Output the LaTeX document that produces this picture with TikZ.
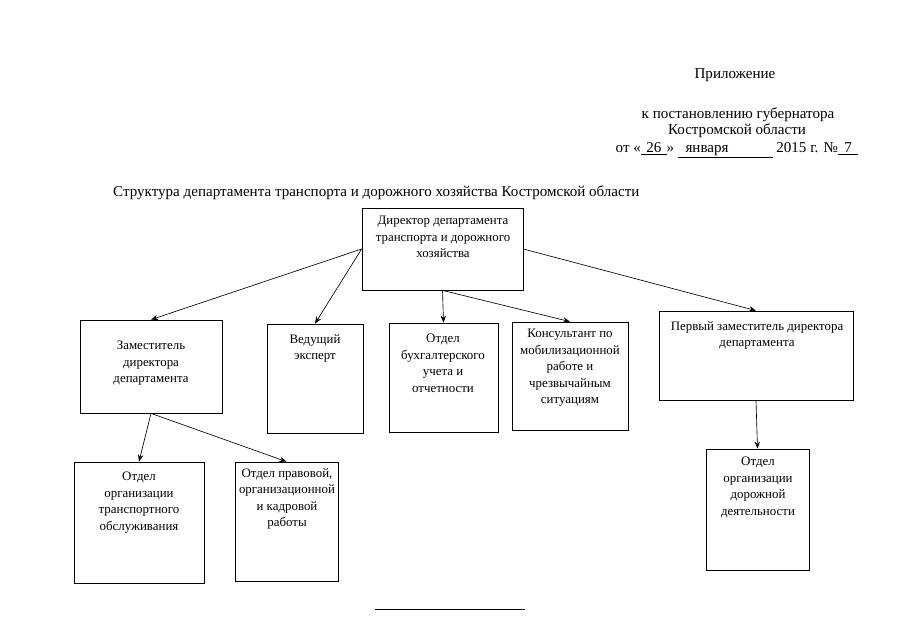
\documentclass[tikz,border=0pt]{standalone}
\usepackage{fontspec}
\setmainfont{Liberation Serif}
\usetikzlibrary{fit}
\usetikzlibrary{arrows.meta}

\newcommand{\blank}[3][c]{\underline{\makebox[#2][#1]{#3}}}

\begin{document}
\begin{tikzpicture}[x=0.93pt,y=-0.93pt,
		box/.style={draw,line width=0.7pt,inner sep=0pt},
		txt/.style={anchor=north,align=center,inner sep=0pt,font=\fontsize{12}{15.4}\selectfont},
		head/.style={inner sep=0pt,font=\fontsize{14}{16}\selectfont},
		arr/.style={-{Stealth[length=6.5pt,width=5pt]},line width=0.6pt}]
		\useasboundingbox (0,0) rectangle (905,640);
		\node[head] (pril) at (735,75) {Приложение};
		\node[head] (post) at (738,115) {к постановлению губернатора};
		\node[head] (obl) at (737,131) {Костромской области};
		\node[head] (date) at (737,150) {от «\blank{24pt}{26}» \blank[l]{88pt}{\ \ января} 2015 г. №\blank{19pt}{7}};
		\node[head,anchor=west] (title) at (113,193) {Структура департамента транспорта и дорожного хозяйства Костромской области};
		\node[box,fit={(362,208) (523,290)}] (dir) {};
		\node[box,fit={(80,320) (222,413)}] (zam) {};
		\node[box,fit={(267,324) (363,433)}] (ved) {};
		\node[box,fit={(389,323) (498,432)}] (buh) {};
		\node[box,fit={(512,322) (628,430)}] (kons) {};
		\node[box,fit={(659,311) (853,400)}] (perv) {};
		\node[box,fit={(74,462) (204,583)}] (ottr) {};
		\node[box,fit={(235,462) (338,581)}] (prav) {};
		\node[box,fit={(706,449) (809,570)}] (otdor) {};
		\node[txt] (dirt) at (443,216) {Директор департамента\\транспорта и дорожного\\хозяйства};
		\node[txt] (zamt) at (151,341) {Заместитель\\директора\\департамента};
		\node[txt] (vedt) at (315,334) {Ведущий\\эксперт};
		\node[txt] (buht) at (443,334) {Отдел\\бухгалтерского\\учета и\\отчетности};
		\node[txt] (konst) at (570,329) {Консультант по\\мобилизационной\\работе и\\чрезвычайным\\ситуациям};
		\node[txt] (pervt) at (757,321) {Первый заместитель директора\\департамента};
		\node[txt] (ottrt) at (139,472) {Отдел\\организации\\транспортного\\обслуживания};
		\node[txt] (pravt) at (287,468) {Отдел правовой,\\организационной\\и кадровой\\работы};
		\node[txt] (otdort) at (758,457) {Отдел\\организации\\дорожной\\деятельности};
		\draw[arr] (dir.west) -- (zam.north);
		\draw[arr] (dir.west) -- (ved.north);
		\draw[arr] (dir.south) -- (buh.north);
		\draw[arr] (dir.south) -- (kons.north);
		\draw[arr] (dir.east) -- (perv.north);
		\draw[arr] (zam.south) -- (ottr.north);
		\draw[arr] (zam.south) -- (prav.north);
		\draw[arr] (perv.south) -- (otdor.north);
		\draw[line width=0.7pt] (375,609) -- (525,609);
	\end{tikzpicture}
\end{document}
